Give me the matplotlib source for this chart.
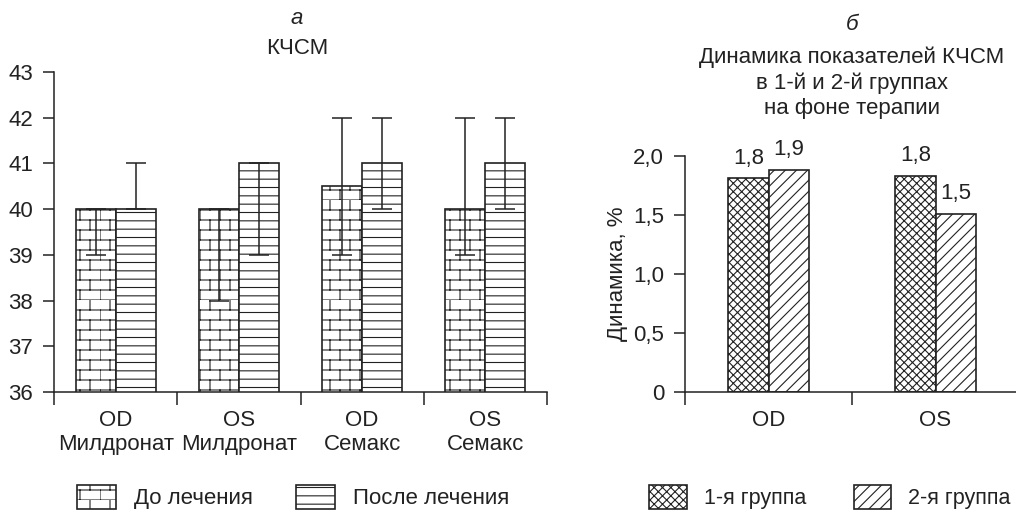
"""
Two-panel bar chart: KCSM values before/after treatment and group dynamics.
"""

import warnings
import numpy as np
import matplotlib
matplotlib.use("Agg")
import matplotlib.pyplot as plt
from matplotlib import hatch as mhatch
from matplotlib.path import Path

warnings.filterwarnings("ignore")

# ---- data: panel a ----
categories_a = ["OD\nМилдронат", "OS\nМилдронат", "OD\nСемакс", "OS\nСемакс"]
before = [40.0, 40.0, 40.5, 40.0]
before_low = [39.0, 38.0, 39.0, 39.0]
before_high = [40.0, 40.0, 42.0, 42.0]
after = [40.0, 41.0, 41.0, 41.0]
after_low = [40.0, 39.0, 40.0, 40.0]
after_high = [41.0, 41.0, 42.0, 42.0]
yticks_a = [36, 37, 38, 39, 40, 41, 42, 43]

# ---- data: panel б ----
categories_b = ["OD", "OS"]
group1 = [1.81, 1.83]
group2 = [1.88, 1.51]
group1_labels = ["1,8", "1,8"]
group2_labels = ["1,9", "1,5"]
yticks_b = [0, 0.5, 1.0, 1.5, 2.0]
yticklabels_b = ["0", "0,5", "1,0", "1,5", "2,0"]


class BrickHatch(mhatch.HatchPatternBase):
    """Brick-wall hatch, enabled by the letter 'b' in the hatch string."""

    def __init__(self, hatch, density):
        self.rows = 10 if "b" in hatch else 0
        self.cols = 5
        self.num_vertices = self.rows * 2 + self.rows * self.cols * 2

    def set_vertices_and_codes(self, vertices, codes):
        k = 0
        for i in range(self.rows):
            y0 = i / self.rows
            y1 = (i + 1) / self.rows
            vertices[k] = (0.0, y0)
            vertices[k + 1] = (1.0, y0)
            k += 2
            offset = 0.0 if i % 2 == 0 else 0.5 / self.cols
            for j in range(self.cols):
                x = j / self.cols + offset
                vertices[k] = (x, y0)
                vertices[k + 1] = (x, y1)
                k += 2
        codes[0::2] = Path.MOVETO
        codes[1::2] = Path.LINETO


mhatch._hatch_types.append(BrickHatch)

plt.rcParams["font.family"] = ["Liberation Sans", "DejaVu Sans"]
plt.rcParams["hatch.linewidth"] = 0.8
text_color = "#222222"
edge = "#222222"
fs = 16

W, H = 1016, 512
fig = plt.figure(figsize=(W / 100, H / 100), dpi=100)

# ---------------- panel a ----------------
ax1 = fig.add_axes([54 / W, (H - 392) / H, (547 - 54) / W, (392 - 72) / H])
x = np.arange(len(categories_a))
bw = 0.325
b1 = ax1.bar(x - bw / 2, before, bw, color="white", edgecolor=edge,
             linewidth=1.2, hatch="b", label="До лечения", zorder=2)
b2 = ax1.bar(x + bw / 2, after, bw, color="white", edgecolor=edge,
             linewidth=1.2, hatch="--", label="После лечения", zorder=2)
ax1.errorbar(x - bw / 2, before,
             yerr=[np.subtract(before, before_low), np.subtract(before_high, before)],
             fmt="none", ecolor=edge, elinewidth=1.1, capsize=7.5, capthick=1.1, zorder=3)
ax1.errorbar(x + bw / 2, after,
             yerr=[np.subtract(after, after_low), np.subtract(after_high, after)],
             fmt="none", ecolor=edge, elinewidth=1.1, capsize=7.5, capthick=1.1, zorder=3)
ax1.set_ylim(36, 43)
ax1.set_xlim(-0.5, len(categories_a) - 0.5)
ax1.set_yticks(yticks_a)
ax1.set_xticks(x)
ax1.set_xticklabels(categories_a)
ax1.set_xticks(np.arange(len(categories_a) + 1) - 0.5, minor=True)

# ---------------- panel б ----------------
ax2 = fig.add_axes([685 / W, (H - 392) / H, (1019 - 685) / W, (392 - 156) / H])
xb = np.arange(len(categories_b))
bw2 = 0.24
g1 = ax2.bar(xb - bw2 / 2, group1, bw2, color="white", edgecolor=edge,
             linewidth=1.2, hatch="xxxx", label="1-я группа", zorder=2)
g2 = ax2.bar(xb + bw2 / 2, group2, bw2, color="white", edgecolor=edge,
             linewidth=1.2, hatch="///", label="2-я группа", zorder=2)
for rects, labels in ((g1, group1_labels), (g2, group2_labels)):
    for rect, lab in zip(rects, labels):
        ax2.annotate(lab, (rect.get_x() + rect.get_width() / 2, rect.get_height()),
                     xytext=(0, 7), textcoords="offset points", ha="center",
                     va="bottom", fontsize=fs, color=text_color)
ax2.set_ylim(0, 2.0)
ax2.set_xlim(-0.5, len(categories_b) - 0.5)
ax2.set_yticks(yticks_b)
ax2.set_yticklabels(yticklabels_b)
ax2.set_xticks(xb)
ax2.set_xticklabels(categories_b)
ax2.set_xticks(np.arange(len(categories_b) + 1) - 0.5, minor=True)
ax2.set_ylabel("Динамика, %", fontsize=fs, color=text_color, labelpad=4)

for ax in (ax1, ax2):
    ax.spines["top"].set_visible(False)
    ax.spines["right"].set_visible(False)
    for s in ("left", "bottom"):
        ax.spines[s].set_color(edge)
        ax.spines[s].set_linewidth(1.1)
    ax.tick_params(axis="y", direction="out", length=8, width=1.1, pad=7,
                   labelsize=fs, colors=text_color)
    ax.tick_params(axis="x", which="major", length=0, pad=13, labelsize=fs,
                   colors=text_color)
    ax.tick_params(axis="x", which="minor", direction="out", length=9, width=1.1,
                   colors=edge)
    ax.set_facecolor("none")

# titles
fig.text(297 / W, 1 - 19 / H, "а", ha="center", va="center", fontsize=fs,
         style="italic", color=text_color)
fig.text(297 / W, 1 - 48 / H, "КЧСМ", ha="center", va="center", fontsize=fs,
         color=text_color)
fig.text(852 / W, 1 - 24 / H, "б", ha="center", va="center", fontsize=fs,
         style="italic", color=text_color)
fig.text(852 / W, 1 - 83 / H,
         "Динамика показателей КЧСМ\nв 1-й и 2-й группах\nна фоне терапии",
         ha="center", va="center", fontsize=fs, linespacing=1.25,
         color=text_color)

# legends
leg_kw = dict(loc="center left", ncol=2, frameon=False,
              handlelength=1.75, handleheight=1.35, handletextpad=0.8,
              borderpad=0, borderaxespad=0, labelcolor=text_color)
fig.legend(handles=[b1, b2], bbox_to_anchor=(77 / W, 1 - 497 / H),
           columnspacing=1.95, fontsize=fs, **leg_kw)
fig.legend(handles=[g1, g2], bbox_to_anchor=(649 / W, 1 - 497 / H),
           columnspacing=2.2, fontsize=15.5, **leg_kw)

fig.savefig("out.png", dpi=100)
